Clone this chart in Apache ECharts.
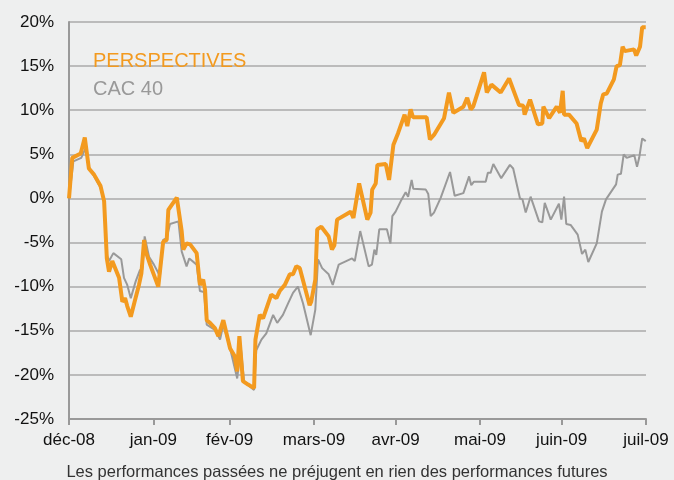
<!DOCTYPE html>
<html>
<head>
<meta charset="utf-8">
<script src="https://cdn.jsdelivr.net/npm/echarts@6/dist/echarts.min.js"></script>
<style>
  html, body { margin: 0; padding: 0; background: #eeefef; }
  #main { width: 674px; height: 480px; }
</style>
</head>
<body>
<div id="main"></div>
<script>
// axe des dates : jours depuis le premier point
var monthDays = [0, 31, 59, 90, 120, 151, 181, 212];
var monthLabels = ['déc-08', 'jan-09', 'fév-09', 'mars-09', 'avr-09', 'mai-09', 'juin-09', 'juil-09'];

// PERSPECTIVES
var perspDays = [0, 1.2, 4.3, 5.8, 7.3, 9.2, 11.6, 12.9, 13.9, 14.7, 15.9, 18.4, 19.6, 20.6, 21.4, 22.7, 24.1, 25.7, 26.6, 27.2,
    27.6, 28.2, 29.8, 32.8, 33.4, 34.6, 35.9, 36.5, 39.6, 41.4, 42.0, 43.2, 44.5, 46.9, 48.1, 49.3, 50.0, 50.6, 51.8, 53.6,
    54.9, 56.7, 59.2, 60.9, 61.8, 62.6, 63.9, 65.8, 68.0, 68.5, 70.1, 71.3, 74.3, 76.2, 77.4, 79.3, 81.1, 82.3, 83.5, 84.8,
    88.4, 89.0, 90.5, 91.2, 92.7, 95.4, 96.6, 97.5, 98.5, 103.5, 104.5, 106.6, 109.6, 110.8, 111.4, 112.7, 113.3, 116.4, 117.6, 119.2,
    120.9, 123.3, 124.3, 125.5, 126.4, 131.4, 132.6, 134.1, 137.8, 139.6, 141.2, 144.9, 146.3, 147.6, 148.5, 152.5, 153.5, 155.2, 158.6, 161.7,
    165.3, 166.9, 167.4, 169.4, 172.3, 173.9, 174.3, 176.4, 179.2, 180.4, 181.4, 181.9, 183.7, 186.5, 188.2, 189.2, 190.4, 193.9, 195.4, 196.3,
    197.6, 200.2, 201.2, 202.4, 203.4, 204.2, 207.6, 208.4, 209.8, 210.6, 211.9];
var perspValues = [0.0, 4.6, 5.1, 6.9, 3.4, 2.7, 1.4, -0.3, -6.8, -8.3, -7.1, -9.0, -11.7, -11.3, -12.2, -13.4, -11.7, -9.8, -8.5, -8.6,
    -4.7, -6.0, -7.5, -10.0, -9.8, -4.9, -4.7, -1.3, 0.1, -3.7, -5.8, -5.1, -5.2, -6.2, -9.8, -9.2, -10.4, -13.8, -14.1, -14.7,
    -15.6, -13.8, -17.0, -17.9, -19.6, -15.6, -20.7, -21.1, -21.5, -16.0, -13.2, -13.6, -10.9, -11.3, -10.5, -9.8, -8.6, -8.6, -7.7, -7.9,
    -12.1, -11.7, -9.2, -3.5, -3.2, -4.3, -5.8, -5.3, -2.4, -1.5, -2.2, 1.7, -2.4, -1.6, 1.0, 1.7, 3.8, 3.9, 2.1, 6.1,
    7.4, 9.5, 8.2, 10.1, 9.2, 9.2, 6.7, 7.2, 9.1, 12.0, 9.7, 10.4, 11.4, 10.1, 10.4, 14.3, 12.0, 12.9, 12.0, 13.6,
    10.6, 10.5, 9.5, 11.2, 8.4, 8.5, 10.4, 9.1, 10.4, 9.7, 12.2, 9.5, 9.5, 8.5, 6.5, 6.8, 5.7, 7.8, 10.8, 11.8,
    11.9, 13.5, 15.0, 15.1, 17.2, 16.7, 16.9, 16.2, 17.2, 19.4, 19.4];

// CAC 40
var cacDays = [0, 1.6, 4.5, 6.1, 7.3, 11.6, 12.9, 13.9, 14.7, 16.3, 19.2, 20.2, 21.4, 22.7, 24.5, 26.1, 26.9, 27.8, 29.4, 31.2,
    33.4, 34.6, 35.9, 37.1, 40.2, 41.4, 42.0, 43.2, 44.2, 46.9, 48.1, 49.6, 50.6, 53.6, 55.5, 56.7, 59.2, 61.8, 63.1, 64.3,
    66.4, 68.0, 68.8, 70.7, 72.5, 75.0, 76.5, 78.6, 80.5, 82.3, 84.1, 86.0, 88.8, 90.5, 91.5, 93.0, 95.4, 96.9, 99.1, 104.0,
    105.0, 107.0, 110.1, 111.3, 112.2, 112.9, 114.0, 116.8, 118.1, 118.8, 120.0, 121.9, 123.7, 124.6, 125.9, 126.5, 131.1, 132.0, 132.9, 134.1,
    136.6, 140.0, 141.7, 144.9, 147.0, 147.8, 148.8, 153.1, 153.9, 154.9, 155.9, 158.8, 162.0, 163.2, 165.7, 166.6, 167.8, 169.6, 172.7, 173.9,
    174.8, 177.0, 180.0, 180.9, 181.9, 182.7, 184.3, 186.9, 188.5, 189.7, 190.8, 193.9, 195.8, 197.3, 201.0, 201.6, 202.8, 203.8, 204.9, 207.7,
    208.7, 209.5, 210.6, 211.9];
var cacValues = [0.0, 4.2, 4.6, 5.7, 3.6, 1.2, -0.5, -6.4, -7.1, -6.2, -6.9, -9.0, -9.8, -11.3, -9.4, -8.1, -8.1, -4.3, -6.6, -7.5,
    -8.8, -4.7, -4.5, -2.9, -2.6, -6.0, -5.8, -7.7, -6.8, -7.5, -10.5, -10.6, -14.3, -14.9, -16.0, -14.3, -17.0, -20.4, -16.8, -20.7,
    -21.3, -21.7, -17.2, -16.0, -15.3, -13.2, -14.1, -13.2, -11.9, -10.7, -10.0, -11.9, -15.5, -12.6, -6.9, -7.9, -8.6, -9.8, -7.5, -6.8,
    -7.1, -3.7, -7.7, -7.5, -5.8, -6.4, -3.5, -3.5, -5.1, -2.0, -1.5, -0.3, 0.7, 0.2, 2.1, 1.1, 1.0, 0.5, -2.0, -1.6,
    0.1, 3.0, 0.3, 0.6, 2.5, 1.5, 1.9, 1.9, 2.9, 2.9, 3.9, 2.3, 3.8, 3.4, 0.0, -0.1, -1.6, 0.2, -2.6, -2.7,
    -0.5, -2.4, -0.6, -2.4, 0.2, -2.9, -3.0, -4.1, -6.3, -5.8, -7.2, -5.1, -1.5, -0.1, 1.6, 2.7, 2.8, 5.0, 4.6, 4.9,
    3.6, 4.6, 6.8, 6.5];

function pairs(days, values) {
    return days.map(function (d, i) { return [d, values[i]]; });
}

var myChart = echarts.init(document.getElementById('main'));
var font = 'Liberation Sans, Arial, sans-serif';
var option = {
    backgroundColor: '#eeefef',
    animation: false,
    textStyle: { fontFamily: font },
    title: {
        text: 'Les performances passées ne préjugent en rien des performances futures',
        left: 'center',
        top: 459,
        textStyle: { fontSize: 16.5, fontWeight: 'normal', color: '#333', fontFamily: font }
    },
    legend: {
        orient: 'vertical',
        left: 83,
        top: 46,
        icon: 'none',
        itemWidth: 0,
        itemHeight: 20,
        itemGap: 8,
        data: [
            { name: 'PERSPECTIVES', textStyle: { color: '#f39a1f' } },
            { name: 'CAC 40', textStyle: { color: '#999999' } }
        ],
        textStyle: { fontSize: 20, fontFamily: font }
    },
    grid: { left: 69, right: 28, top: 22, bottom: 61 },
    xAxis: {
        type: 'value',
        min: 0,
        max: 212,
        splitLine: { show: false },
        axisLine: { onZero: false, lineStyle: { color: '#999', width: 2 } },
        axisTick: {
            show: true,
            customValues: monthDays,
            length: 6,
            lineStyle: { color: '#999', width: 2 }
        },
        axisLabel: {
            customValues: monthDays,
            margin: 13,
            fontSize: 17,
            color: '#111',
            formatter: function (v) {
                var i = monthDays.indexOf(v);
                return i >= 0 ? monthLabels[i] : '';
            }
        }
    },
    yAxis: {
        type: 'value',
        min: -25,
        max: 20,
        interval: 5,
        axisLine: { show: true, lineStyle: { color: '#999', width: 2 } },
        axisTick: { show: false },
        axisLabel: { formatter: '{value}%', fontSize: 17, color: '#111', margin: 15 },
        splitLine: { lineStyle: { color: '#aaa', width: 1.5 } }
    },
    series: [
        {
            name: 'CAC 40',
            type: 'line',
            data: pairs(cacDays, cacValues),
            showSymbol: false,
            lineStyle: { color: '#999999', width: 2 },
            itemStyle: { color: '#999999' },
            z: 2
        },
        {
            name: 'PERSPECTIVES',
            type: 'line',
            data: pairs(perspDays, perspValues),
            showSymbol: false,
            lineStyle: { color: '#f39a1f', width: 4 },
            itemStyle: { color: '#f39a1f' },
            z: 3
        }
    ]
};
myChart.setOption(option);
</script>
</body>
</html>
